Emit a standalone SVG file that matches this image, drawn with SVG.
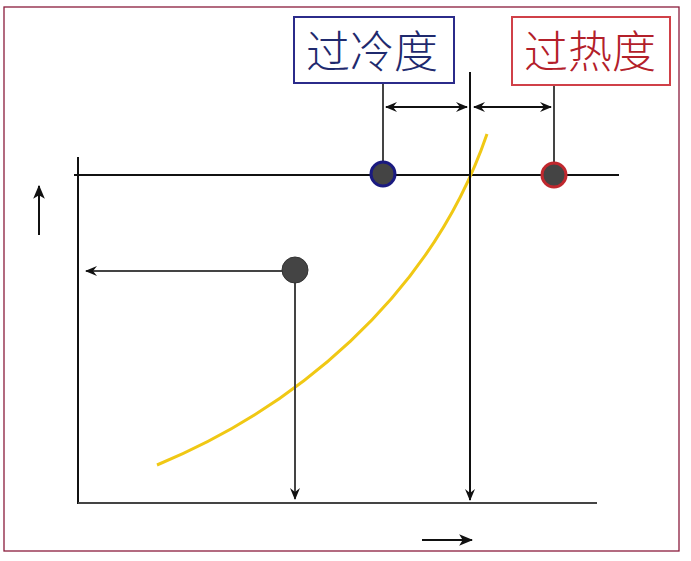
<svg xmlns="http://www.w3.org/2000/svg" width="691" height="561" viewBox="0 0 691 561">
<style>
.ln{stroke:#111;stroke-width:2;fill:none}
.gl{stroke:#444;stroke-width:2;fill:none}
.lbl{font-family:"Noto Sans CJK SC","Noto Sans",sans-serif;font-size:44px;font-weight:300;text-anchor:middle}
</style>
<defs>
<marker id="ah" viewBox="0 0 12 10" refX="11" refY="5" markerWidth="12" markerHeight="10" markerUnits="userSpaceOnUse" orient="auto-start-reverse">
<path d="M0,0 L12,5 L0,10 L4,5 Z" fill="#111"/>
</marker>
<marker id="ahb" viewBox="0 0 12 10" refX="11" refY="5" markerWidth="14" markerHeight="12" markerUnits="userSpaceOnUse" orient="auto">
<path d="M0,0 L12,5 L0,10 L3,5 Z" fill="#111"/>
</marker>
</defs>
<rect x="0" y="0" width="691" height="561" fill="#fff"/>
<rect x="4" y="7" width="675" height="544" fill="none" stroke="#8a1c3c" stroke-width="1.3"/>
<g id="axes">
<line class="ln" x1="78" y1="157" x2="78" y2="504" stroke-width="2.5"/>
<line class="gl" x1="78" y1="503" x2="597" y2="503"/>
<line class="ln" x1="74" y1="175" x2="619" y2="175"/>
</g>
<g id="curve">
<path d="M157,465 C290,410 430,300 487,134" fill="none" stroke="#f0c814" stroke-width="3"/>
</g>
<g id="connectors">
<line class="ln" x1="470" y1="72" x2="470" y2="500" stroke-width="1.8" marker-end="url(#ah)"/>
<line class="gl" x1="383" y1="83" x2="383" y2="165"/>
<line class="gl" x1="554" y1="86" x2="554" y2="165"/>
<line class="ln" x1="386" y1="107" x2="467" y2="107" marker-start="url(#ah)" marker-end="url(#ah)" stroke-width="1.8"/>
<line class="ln" x1="474" y1="107" x2="551" y2="107" marker-start="url(#ah)" marker-end="url(#ah)" stroke-width="1.8"/>
<line class="gl" x1="283" y1="271" x2="86" y2="271" marker-end="url(#ah)"/>
<line class="gl" x1="295" y1="271" x2="295" y2="499" marker-end="url(#ah)"/>
<line class="ln" x1="39" y1="235" x2="39" y2="186" marker-end="url(#ahb)" stroke-width="3"/>
<line class="ln" x1="422" y1="540" x2="472" y2="540" marker-end="url(#ahb)" stroke-width="3"/>
</g>
<g id="subcool-point"><circle cx="383" cy="174" r="12" fill="#444" stroke="#1a1a80" stroke-width="3"/></g>
<g id="superheat-point"><circle cx="554" cy="175" r="12" fill="#444" stroke="#c0282e" stroke-width="3"/></g>
<g id="state-point"><circle cx="295" cy="270" r="13" fill="#444" stroke="#333" stroke-width="1"/></g>
<g id="subcool-label">
<rect x="294" y="17" width="160" height="66" fill="#fff" stroke="#2b2b8a" stroke-width="2"/>
<text class="lbl" x="372" y="68" fill="#1f2a6e">过冷度</text>
</g>
<g id="superheat-label">
<rect x="512" y="17" width="158" height="68" fill="#fff" stroke="#d04048" stroke-width="2"/>
<text class="lbl" x="590" y="68" fill="#b3202a">过热度</text>
</g>
</svg>
